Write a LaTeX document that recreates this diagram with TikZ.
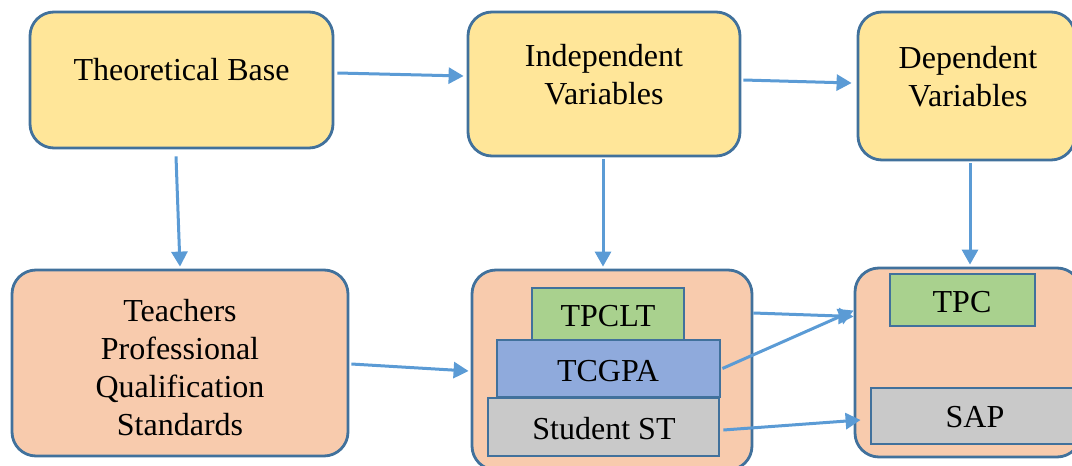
\documentclass[tikz,border=0pt]{standalone}
\usepackage{fontspec}
\setmainfont{Liberation Serif}
\usetikzlibrary{arrows.meta,calc}
\definecolor{bord}{HTML}{41719C}
\definecolor{arr}{HTML}{5B9BD5}
\definecolor{yel}{HTML}{FFE699}
\definecolor{ora}{HTML}{F8CBAD}
\definecolor{grn}{HTML}{A9D18E}
\definecolor{blu}{HTML}{8FAADC}
\definecolor{gry}{HTML}{C9C9C9}
\begin{document}
\begin{tikzpicture}[x=1pt,y=-1pt,
  bigbox/.style={draw=bord,line width=2.8pt,rounded corners=24pt,inner sep=0pt,minimum width=#1},
  inbox/.style={draw=bord,line width=2.8pt,inner sep=0pt},
  txt/.style={inner sep=0pt,align=center,font=\fontsize{32}{38}\selectfont},
  conn/.style={draw=arr,line width=3pt,-{Triangle[length=15pt,width=16pt]}}]
\useasboundingbox (0,0) rectangle (1072,466);
% boxes
\node[bigbox=303pt,fill=yel,minimum height=136pt] (tb) at (181.5,80) {};
\node[bigbox=272pt,fill=yel,minimum height=144pt] (iv) at (604,84) {};
\node[bigbox=217pt,fill=yel,minimum height=148pt] (dv) at (966.5,86) {};
\node[bigbox=336pt,fill=ora,minimum height=186pt] (tq) at (180,363) {};
\node[bigbox=280pt,fill=ora,minimum height=200pt] (mid) at (612,370) {};
\node[bigbox=226pt,fill=ora,minimum height=189pt] (rc) at (968,362.5) {};
\node[inbox,fill=grn,minimum width=152pt,minimum height=52pt] (tpclt) at (608,314) {};
\node[inbox,fill=blu,minimum width=223pt,minimum height=57pt] (tcgpa) at (608.5,368.5) {};
\node[inbox,fill=gry,minimum width=231pt,minimum height=58pt] (sst) at (603.5,427) {};
\node[inbox,fill=grn,minimum width=145pt,minimum height=52pt] (tpc) at (962.5,300) {};
\node[inbox,fill=gry,minimum width=208pt,minimum height=56pt] (sap) at (975,416) {};
% texts
\node[txt] (tbt) at (181.5,69.5) {Theoretical Base};
\node[txt] (ivt) at (604,75) {Independent\\Variables};
\node[txt] (dvt) at (968,77) {Dependent\\Variables};
\node[txt] (tqt) at (180,368) {Teachers\\Professional\\Qualification\\Standards};
\node[txt] (tpcltt) at (608,316) {TPCLT};
\node[txt] (tcgpat) at (608,371) {TCGPA};
\node[txt] (sstt) at (604,429) {Student ST};
\node[txt] (tpct) at (962,302) {TPC};
\node[txt] (sapt) at (975,417.5) {SAP};
% connectors
\draw[conn] ($(tb.east)+(3,-7)$) -- ($(iv.west)+(-3,-8)$);
\draw[conn] ($(iv.east)+(2,-4)$) -- ($(dv.west)+(-5,-3)$);
\draw[conn] ($(tb.south)+(-5.5,7)$) -- ($(tq.north)+(0,-2)$);
\draw[conn] ($(iv.south)+(-1,2)$) -- ($(mid.north)+(-9,-2)$);
\draw[conn] ($(dv.south)+(3.5,2)$) -- ($(rc.north)+(2,-2)$);
\draw[conn] ($(tq.east)+(2,1)$) -- ($(mid.west)+(-2,1)$);
\draw[conn] ($(mid.east)+(0,-57)$) -- ($(rc.west)+(0,-46)$);
\draw[conn] ($(tcgpa.east)+(1,0)$) -- ($(rc.west)+(0,-52)$);
\draw[conn] ($(sst.east)+(3,3)$) -- ($(sap.west)+(-9,4)$);
\end{tikzpicture}
\end{document}
